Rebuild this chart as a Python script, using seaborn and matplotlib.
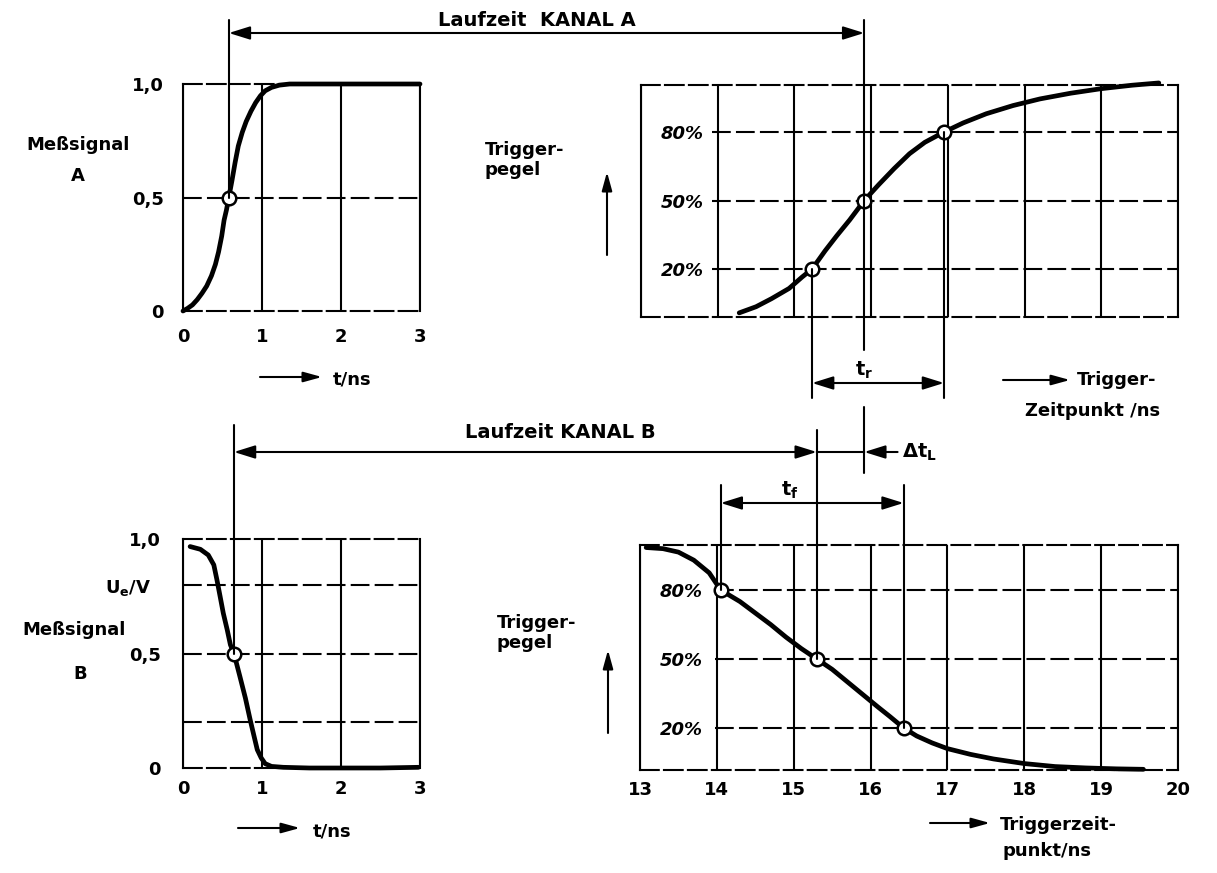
import matplotlib
matplotlib.use("Agg")
import matplotlib.pyplot as plt
from matplotlib.lines import Line2D
from matplotlib.patches import FancyArrowPatch
from matplotlib.transforms import blended_transform_factory as blend
import seaborn as sns

sns.set_theme(style="white")
plt.rcParams["font.family"] = ["DejaVu Sans"]
plt.rcParams["mathtext.default"] = "regular"
plt.rcParams["text.color"] = "black"
plt.rcParams["xtick.color"] = "black"
plt.rcParams["ytick.color"] = "black"

# Meßsignal A (steigende Flanke), t in ns
t_a = [0, 0.06, 0.12, 0.18, 0.24, 0.3, 0.36, 0.41, 0.45, 0.49, 0.52, 0.55, 0.58,
       0.62, 0.66, 0.7, 0.75, 0.8, 0.86, 0.92, 0.98, 1.04, 1.12, 1.22, 1.35,
       1.5, 2.0, 2.5, 3.0]
u_a = [0, 0.012, 0.027, 0.05, 0.078, 0.11, 0.155, 0.205, 0.26, 0.33, 0.4, 0.445,
       0.5, 0.575, 0.655, 0.727, 0.787, 0.835, 0.88, 0.918, 0.948, 0.97, 0.985,
       0.995, 1.0, 1.0, 1.0, 1.0, 1.0]

# Meßsignal B (fallende Flanke)
t_b = [0.09, 0.22, 0.32, 0.39, 0.43, 0.47, 0.51, 0.56, 0.6, 0.645, 0.72, 0.79,
       0.85, 0.9, 0.94, 0.99, 1.04, 1.12, 1.27, 1.6, 2.0, 2.5, 2.98]
u_b = [0.967, 0.955, 0.93, 0.887, 0.821, 0.749, 0.676, 0.603, 0.538, 0.5, 0.4,
       0.305, 0.211, 0.138, 0.08, 0.044, 0.019, 0.007, 0.003, 0.0, 0.0, 0.0,
       0.003]

# Triggerpegel (%) über Trigger-Zeitpunkt (ns), Kanal A
tz_a = [14.28, 14.5, 14.7, 14.93, 15.1, 15.23, 15.4, 15.55, 15.72, 15.91, 16.1,
        16.3, 16.5, 16.7, 16.95, 17.2, 17.5, 17.85, 18.2, 18.6, 19.0, 19.4, 19.75]
pegel_a = [0.8, 3.5, 7, 11.5, 16.5, 20, 28, 34.5, 41.5, 50, 57, 64, 70.5, 75.5,
           80, 84, 88, 91.6, 94.5, 97, 99, 100.5, 101.5]

# Kanal B
tz_b = [13.08, 13.3, 13.5, 13.7, 13.9, 14.05, 14.3, 14.5, 14.7, 14.9, 15.1,
        15.3, 15.5, 15.7, 15.9, 16.1, 16.25, 16.43, 16.6, 16.8, 17.0, 17.3,
        17.6, 18.0, 18.4, 18.8, 19.2, 19.55]
pegel_b = [98.5, 98, 96.5, 93, 87.5, 80, 75, 70, 65, 59.5, 54.5, 50, 45.5, 40,
           34.5, 29, 25, 20, 16.5, 13.5, 11, 8.5, 6.5, 4.5, 3.2, 2.6, 2.2, 2.0]

pegel_ticks = [20, 50, 80]
pegel_labels = ["20%", "50%", "80%"]
tz_a_cross = [15.23, 15.91, 16.95]   # 20 / 50 / 80 %
tz_b_cross = [16.43, 15.3, 14.05]    # 20 / 50 / 80 %
t_a_half = 0.58
t_b_half = 0.645

W, H = 1217, 873
fig = plt.figure(figsize=(W / 100, H / 100), dpi=100)
fig.patch.set_facecolor("white")


def box(l, t, r, b):
    return [l / W, 1 - b / H, (r - l) / W, (b - t) / H]


def fx(px):
    return px / W


def fy(px):
    return 1 - px / H


ax_tl = fig.add_axes(box(183, 84, 420, 311))
ax_tr = fig.add_axes(box(641, 85, 1178, 317))
ax_bl = fig.add_axes(box(183, 539, 420, 768))
ax_br = fig.add_axes(box(640, 545, 1178, 770))

LW = 1.5
DASH = (0, (9, 2.5))
for ax in (ax_tl, ax_tr, ax_bl, ax_br):
    ax.set_facecolor("white")
    for side, sp in ax.spines.items():
        sp.set_color("black")
        sp.set_linewidth(LW)
        if side in ("top", "bottom"):
            sp.set_linestyle(DASH)
    ax.grid(True, axis="x", color="black", lw=LW)
    ax.set_axisbelow(True)

# linke Diagramme: Meßsignal über t
for ax in (ax_tl, ax_bl):
    ax.set_xlim(0, 3)
    ax.set_ylim(0, 1)
    ax.set_xticks([0, 1, 2, 3])
    ax.set_xticklabels(["0", "1", "2", "3"])
    ax.set_yticks([0, 0.5, 1])
    ax.set_yticklabels(["0", "0,5", "1,0"])
    ax.tick_params(length=0, labelsize=13)
    for lbl in ax.get_xticklabels() + ax.get_yticklabels():
        lbl.set_fontweight("bold")
ax_tl.tick_params(axis="y", pad=14)
ax_tl.tick_params(axis="x", pad=12)
ax_bl.tick_params(axis="y", pad=16)
ax_bl.tick_params(axis="x", pad=9)
ax_tl.axhline(0.5, color="black", lw=LW, ls=DASH)
for lev in (0.2, 0.5, 0.8):
    ax_bl.axhline(lev, color="black", lw=LW, ls=DASH)

# rechte Diagramme: Triggerpegel über Trigger-Zeitpunkt
for ax in (ax_tr, ax_br):
    ax.set_xlim(13, 20)
    ax.set_xticks(range(13, 21))
    ax.set_yticks(pegel_ticks)
    ax.set_yticklabels(pegel_labels)
    ax.tick_params(axis="y", direction="in", length=6, width=LW, pad=-14,
                   labelsize=13)
    for lbl in ax.get_yticklabels():
        lbl.set_horizontalalignment("left")
        lbl.set_fontstyle("italic")
        lbl.set_fontweight("bold")
    for lbl in ax.get_xticklabels():
        lbl.set_fontweight("bold")
ax_tr.set_ylim(-1, 100.6)
ax_br.set_ylim(1.7, 99.6)
ax_tr.tick_params(axis="x", length=0, labelbottom=False)
ax_br.tick_params(axis="x", length=0, labelsize=13, pad=8)
ax_tr.hlines(pegel_ticks, 13.93, 20, colors="black", lw=LW, linestyles=[DASH])
ax_br.hlines(pegel_ticks, 13.98, 20, colors="black", lw=LW, linestyles=[DASH])

# Kurven
curve_kw = dict(color="black", lw=3.4, sort=False, zorder=3, clip_on=False)
sns.lineplot(x=t_a, y=u_a, ax=ax_tl, **curve_kw)
sns.lineplot(x=t_b, y=u_b, ax=ax_bl, **curve_kw)
sns.lineplot(x=tz_a, y=pegel_a, ax=ax_tr, **curve_kw)
sns.lineplot(x=tz_b, y=pegel_b, ax=ax_br, **curve_kw)

mark_kw = dict(s=95, color="white", edgecolor="black", linewidth=1.8,
               zorder=5, clip_on=False)
sns.scatterplot(x=[t_a_half], y=[0.5], ax=ax_tl, **mark_kw)
sns.scatterplot(x=[t_b_half], y=[0.5], ax=ax_bl, **mark_kw)
sns.scatterplot(x=tz_a_cross, y=pegel_ticks, ax=ax_tr, **mark_kw)
sns.scatterplot(x=tz_b_cross, y=pegel_ticks, ax=ax_br, **mark_kw)


# Bemaßung
def point_fy(ax, x, y):
    return fig.transFigure.inverted().transform(ax.transData.transform((x, y)))[1]


def vline(ax, x, y0, y1):
    fig.add_artist(Line2D([x, x], [y0, y1], color="black", lw=LW, zorder=4,
                          transform=blend(ax.transData, fig.transFigure)))


ARROW = "{},head_length=0.8,head_width=0.25"


def dim(ax1, x1, ax2, x2, y, style="<|-|>"):
    ax1.annotate("", xy=(x2, y), xycoords=blend(ax2.transData, fig.transFigure),
                 xytext=(x1, y), textcoords=blend(ax1.transData, fig.transFigure),
                 annotation_clip=False,
                 arrowprops=dict(arrowstyle=ARROW.format(style) if style != "-" else "-",
                                 color="black", lw=LW, shrinkA=0, shrinkB=0,
                                 mutation_scale=16))


# Laufzeit Kanal A
vline(ax_tl, t_a_half, fy(20), point_fy(ax_tl, t_a_half, 0.5))
vline(ax_tr, tz_a_cross[1], fy(20), fy(350))
dim(ax_tl, t_a_half, ax_tr, tz_a_cross[1], fy(33))

# t_r
vline(ax_tr, tz_a_cross[0], point_fy(ax_tr, tz_a_cross[0], 20), fy(398))
vline(ax_tr, tz_a_cross[2], point_fy(ax_tr, tz_a_cross[2], 80), fy(398))
dim(ax_tr, tz_a_cross[0], ax_tr, tz_a_cross[2], fy(383))

# Laufzeit Kanal B und Delta t_L
vline(ax_bl, t_b_half, fy(425), point_fy(ax_bl, t_b_half, 0.5))
vline(ax_br, tz_b_cross[1], fy(430), point_fy(ax_br, tz_b_cross[1], 50))
vline(ax_tr, tz_a_cross[1], fy(407), fy(473))
dim(ax_bl, t_b_half, ax_br, tz_b_cross[1], fy(452))
dim(ax_br, tz_b_cross[1], ax_tr, tz_a_cross[1], fy(452), "-")
ax_tr.annotate("", xy=(tz_a_cross[1], fy(452)),
               xycoords=blend(ax_tr.transData, fig.transFigure),
               xytext=(24, 0), textcoords="offset points", annotation_clip=False,
               arrowprops=dict(arrowstyle=ARROW.format("-|>"), color="black",
                               lw=LW, shrinkA=0, shrinkB=0, mutation_scale=16))

# t_f
vline(ax_br, tz_b_cross[2], fy(485), point_fy(ax_br, tz_b_cross[2], 80))
vline(ax_br, tz_b_cross[0], fy(485), point_fy(ax_br, tz_b_cross[0], 20))
dim(ax_br, tz_b_cross[2], ax_br, tz_b_cross[0], fy(503))

# Texte
txt = dict(color="black", fontsize=14, fontweight="bold")
fig.text(fx(537), fy(20), "Laufzeit  KANAL A", ha="center", va="center", **txt)
fig.text(fx(560), fy(432), "Laufzeit KANAL B", ha="center", va="center", **txt)
fig.text(fx(864), fy(370), "$t_r$", ha="center", va="center", **txt)
fig.text(fx(790), fy(490), "$t_f$", ha="center", va="center", **txt)
fig.text(fx(902), fy(452), r"$\Delta t_L$", ha="left", va="center", **txt)

lab = dict(color="black", fontsize=13, fontweight="bold")
fig.text(fx(78), fy(145), "Meßsignal", ha="center", va="center", **lab)
fig.text(fx(78), fy(176), "A", ha="center", va="center", **lab)
fig.text(fx(74), fy(630), "Meßsignal", ha="center", va="center", **lab)
fig.text(fx(80), fy(674), "B", ha="center", va="center", **lab)
fig.text(fx(128), fy(588), "$U_e$/V", ha="center", va="center", **lab)
fig.text(fx(485), fy(160), "Trigger-\npegel", ha="left", va="center", **lab)
fig.text(fx(497), fy(633), "Trigger-\npegel", ha="left", va="center", **lab)

fig.text(fx(333), fy(380), "t/ns", ha="left", va="center", **lab)
fig.text(fx(313), fy(832), "t/ns", ha="left", va="center", **lab)
fig.text(fx(1077), fy(380), "Trigger-", ha="left", va="center", **lab)
fig.text(fx(1025), fy(411), "Zeitpunkt /ns", ha="left", va="center", **lab)
fig.text(fx(1000), fy(825), "Triggerzeit-", ha="left", va="center", **lab)
fig.text(fx(1003), fy(851), "punkt/ns", ha="left", va="center", **lab)

# Richtungspfeile
arrow_kw = dict(arrowstyle="-|>,head_length=0.8,head_width=0.22", color="black",
                lw=LW, shrinkA=0, shrinkB=0, mutation_scale=14)
for (x0, y0, x1, y1) in [(260, 377, 322, 377), (238, 828, 300, 828),
                         (1003, 380, 1070, 380), (930, 823, 990, 823),
                         (607, 255, 607, 172), (608, 733, 608, 650)]:
    fig.add_artist(FancyArrowPatch((fx(x0), fy(y0)), (fx(x1), fy(y1)),
                                   transform=fig.transFigure, **arrow_kw))

fig.savefig("out.png", dpi=100, facecolor="white")
